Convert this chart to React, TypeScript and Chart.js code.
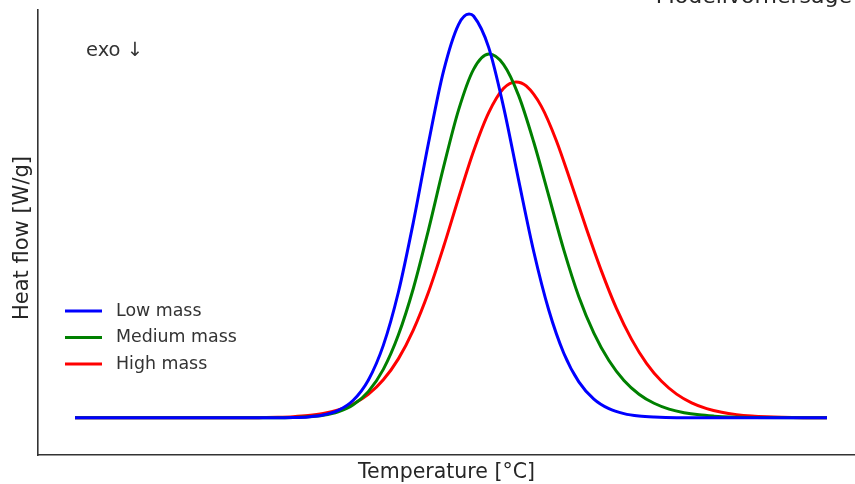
import React, { useEffect, useRef } from "react";
import { Chart, registerables } from "chart.js";

Chart.register(...registerables);

// Temperature [°C] and heat flow [W/g]
const lowMassTemp = [50, 100, 104, 108, 112, 116, 120, 124, 128, 132, 136, 140, 144, 148, 152, 154.8, 156, 160, 164, 168, 172, 176, 180, 184, 188, 192, 196, 200, 204, 210, 250];
const lowMassFlow = [0, 0, 0.0002, 0.0007, 0.0024, 0.0069, 0.0183, 0.0435, 0.0932, 0.1795, 0.311, 0.485, 0.680, 0.858, 0.974, 1.0, 0.995, 0.918, 0.769, 0.588, 0.412, 0.267, 0.160, 0.0892, 0.0465, 0.0227, 0.0105, 0.0045, 0.0019, 0.0004, 0];

const mediumMassTemp = [50, 100, 104, 108, 112, 116, 120, 124, 128, 132, 136, 140, 144, 148, 152, 156, 160.1, 164, 168, 172, 176, 180, 184, 188, 192, 196, 200, 204, 208, 212, 216, 220, 224, 230, 250];
const mediumMassFlow = [0, 0, 0.0003, 0.0009, 0.0025, 0.0063, 0.0149, 0.0324, 0.065, 0.120, 0.205, 0.321, 0.465, 0.620, 0.762, 0.863, 0.901, 0.875, 0.798, 0.683, 0.550, 0.416, 0.300, 0.210, 0.142, 0.0926, 0.0586, 0.0361, 0.0217, 0.0128, 0.0074, 0.0042, 0.002, 0.0006, 0];

const highMassTemp = [50, 96, 100, 104, 108, 112, 116, 120, 124, 128, 132, 136, 140, 144, 148, 152, 156, 160, 164, 167.3, 170, 174, 178, 182, 186, 190, 194, 198, 202, 206, 210, 214, 218, 222, 226, 230, 234, 238, 244, 250];
const highMassFlow = [0, 0, 0.0006, 0.0014, 0.0029, 0.0057, 0.0107, 0.0195, 0.0343, 0.058, 0.0942, 0.146, 0.218, 0.311, 0.423, 0.544, 0.660, 0.755, 0.816, 0.832, 0.822, 0.772, 0.687, 0.580, 0.469, 0.364, 0.271, 0.195, 0.135, 0.0905, 0.0588, 0.0372, 0.0229, 0.0137, 0.008, 0.0046, 0.0026, 0.0014, 0.0005, 0];

const seriesLabels = ["Low mass", "Medium mass", "High mass"];
const seriesColors = ["#0000ff", "#008000", "#ff0000"];

const titleText = "Modellvorhersage";
const xLabel = "Temperature [°C]";
const yLabel = "Heat flow [W/g]";
const annotationText = "exo ↓";

const FONT = "'DejaVu Sans', sans-serif";

const toPoints = (xs: number[], ys: number[]) => xs.map((x, i) => ({ x, y: ys[i] }));

const decorPlugin = {
  id: "decor",
  afterDraw(chart: any) {
    const ctx = chart.ctx as CanvasRenderingContext2D;
    const area = chart.chartArea;
    ctx.save();
    // title (cut off at top)
    ctx.fillStyle = "#262626";
    ctx.font = `22px ${FONT}`;
    ctx.textAlign = "right";
    ctx.textBaseline = "alphabetic";
    ctx.fillText(titleText, 852, 2.5);
    // x label
    ctx.font = `20.5px ${FONT}`;
    ctx.textAlign = "center";
    ctx.fillText(xLabel, (area.left + area.right) / 2, 478);
    // y label
    ctx.save();
    ctx.translate(28, 238);
    ctx.rotate(-Math.PI / 2);
    ctx.font = `21px ${FONT}`;
    ctx.textAlign = "center";
    ctx.fillText(yLabel, 0, 0);
    ctx.restore();
    // annotation
    ctx.fillStyle = "#333333";
    ctx.font = `19.5px ${FONT}`;
    ctx.textAlign = "left";
    ctx.fillText(annotationText, 86, 56);
    // legend
    const rows = [311, 337.5, 364];
    chart.data.datasets.forEach((ds: any, i: number) => {
      const y = rows[i];
      ctx.strokeStyle = ds.borderColor;
      ctx.lineWidth = 3;
      ctx.beginPath();
      ctx.moveTo(65, y);
      ctx.lineTo(102, y);
      ctx.stroke();
      ctx.fillStyle = "#333333";
      ctx.font = `17.4px ${FONT}`;
      ctx.textBaseline = "middle";
      ctx.fillText(ds.label, 116, y);
    });
    ctx.restore();
  },
};

export default function App() {
  const canvasRef = useRef<HTMLCanvasElement | null>(null);

  useEffect(() => {
    document.body.style.margin = "0";
    const canvas = canvasRef.current;
    if (!canvas) return;
    const series = [
      toPoints(lowMassTemp, lowMassFlow),
      toPoints(mediumMassTemp, mediumMassFlow),
      toPoints(highMassTemp, highMassFlow),
    ];
    const chart = new Chart(canvas, {
      type: "line",
      data: {
        datasets: series.map((data, i) => ({
          label: seriesLabels[i],
          data,
          borderColor: seriesColors[i],
          backgroundColor: seriesColors[i],
          borderWidth: 3,
          pointRadius: 0,
          fill: false,
          cubicInterpolationMode: "monotone" as const,
        })),
      },
      options: {
        animation: false,
        responsive: false,
        maintainAspectRatio: false,
        layout: { padding: { left: 38, right: 0, top: 10, bottom: 29 } },
        plugins: {
          legend: { display: false },
          tooltip: { enabled: false },
          title: { display: false },
        },
        scales: {
          x: {
            type: "linear",
            min: 40.16,
            max: 257.45,
            ticks: { display: false },
            grid: { display: false, drawTicks: false },
            border: { display: true, color: "#333333", width: 1.6 },
            title: { display: false },
          },
          y: {
            type: "linear",
            min: -0.092,
            max: 1.01,
            ticks: { display: false },
            grid: { display: false, drawTicks: false },
            border: { display: true, color: "#333333", width: 1.6 },
            title: { display: false },
          },
        },
      },
      plugins: [decorPlugin],
    });
    return () => chart.destroy();
  }, []);

  return (
    <div style={{ width: 855, height: 484 }}>
      <canvas ref={canvasRef} width={855} height={484} style={{ display: "block" }} />
    </div>
  );
}
